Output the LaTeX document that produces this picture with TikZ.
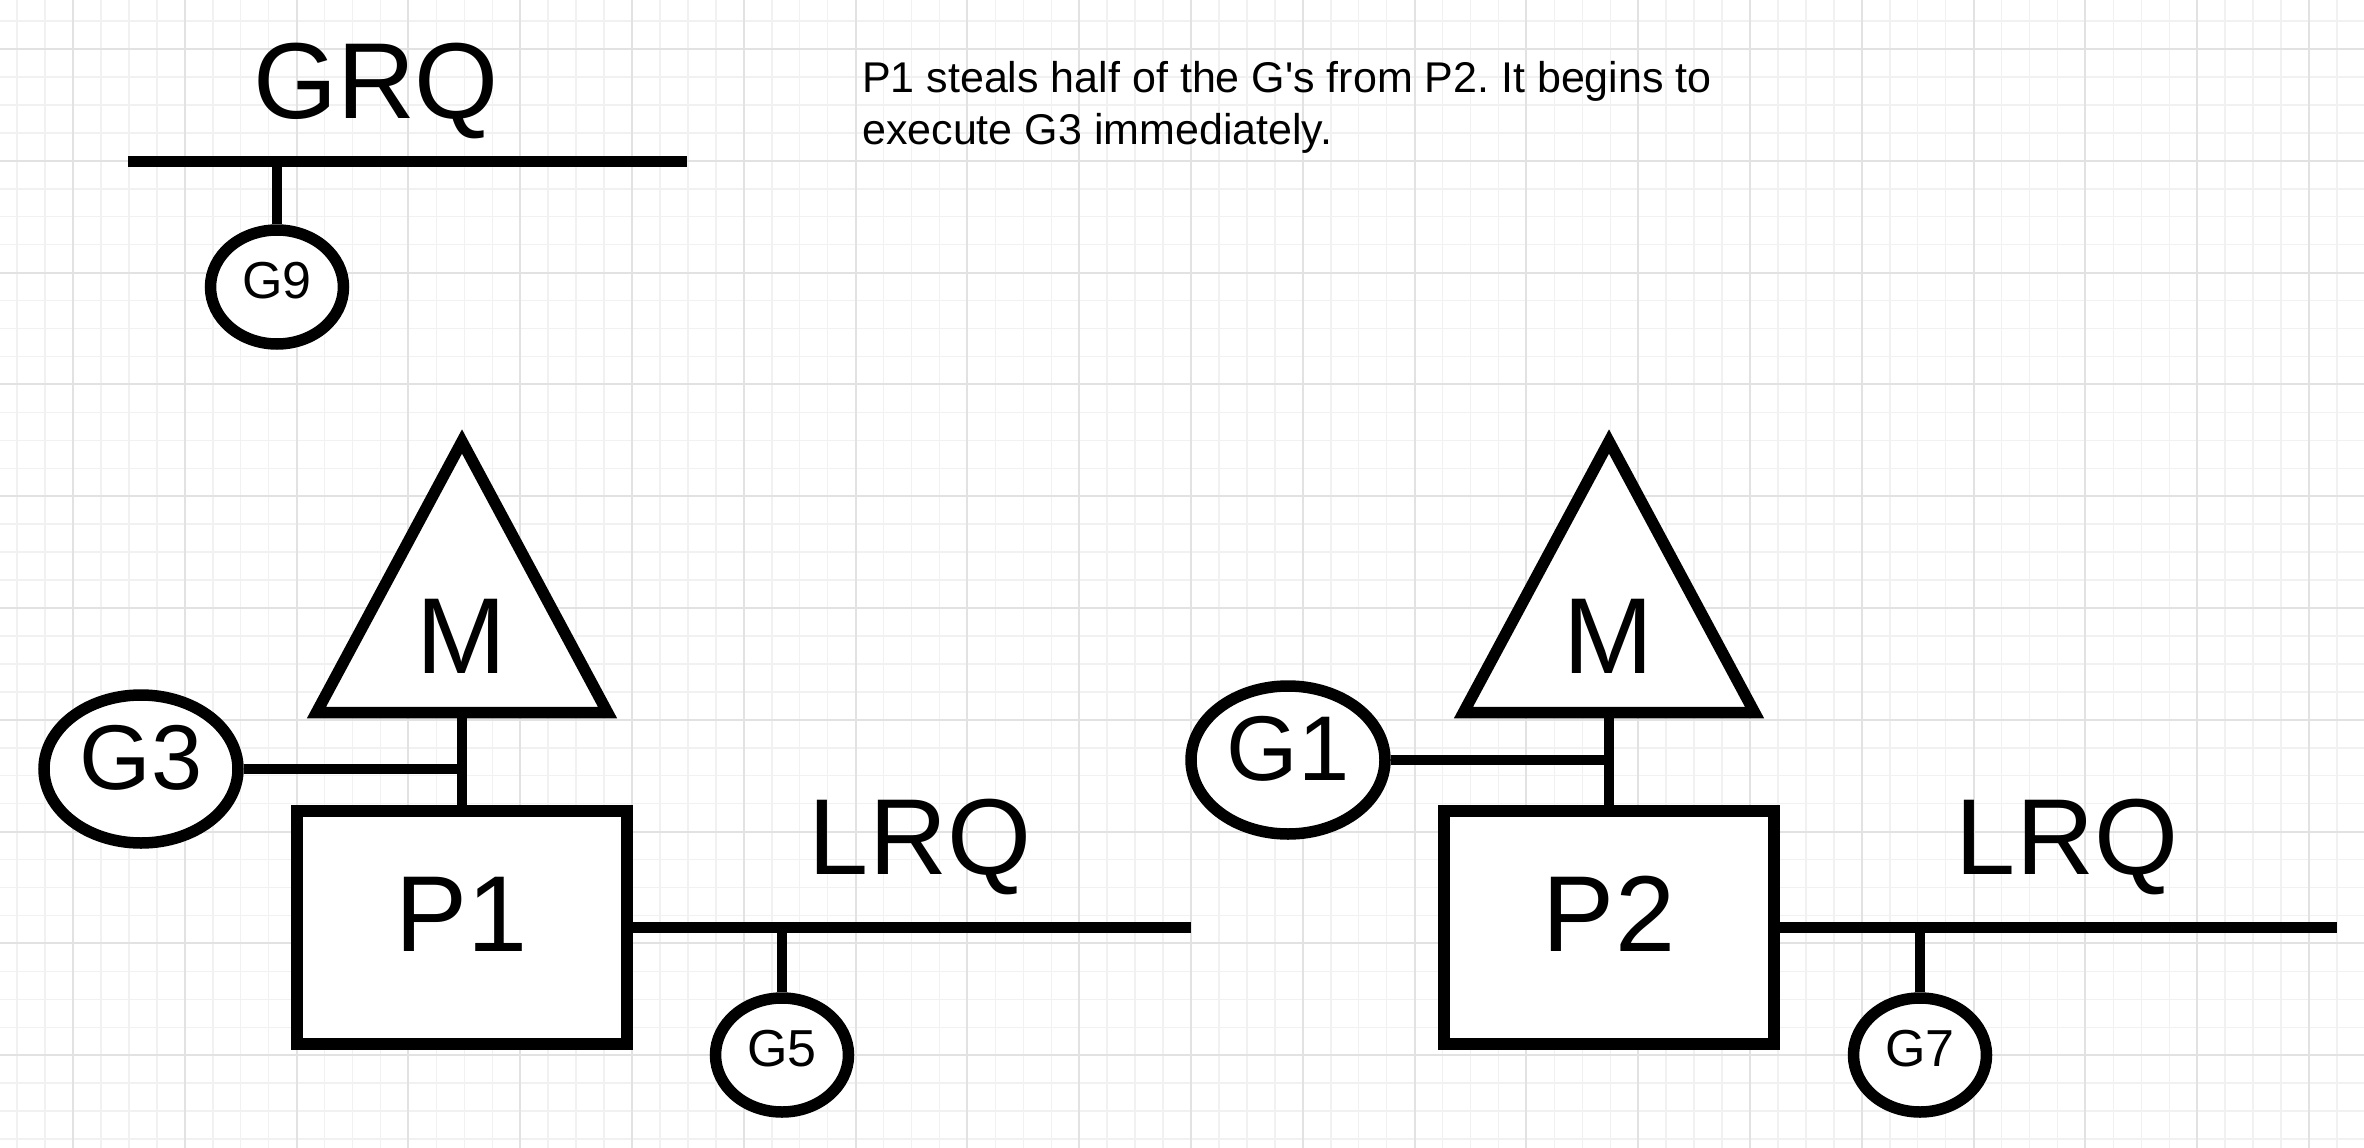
\documentclass[tikz,border=0pt]{standalone}
\usepackage{fontspec}
\setmainfont{Liberation Sans}[Ligatures=TeXOff]
\usetikzlibrary{shapes.geometric,calc}
\definecolor{gridminor}{RGB}{241,241,241}
\definecolor{gridmajor}{RGB}{226,226,226}
\frenchspacing
\begin{document}
\begin{tikzpicture}[x=1pt,y=-1pt,
  shp/.style={draw=black, fill=white, line width=11.5pt},
  gsmall/.style={shp, ellipse, minimum width=133pt, minimum height=114pt, inner sep=0pt,
    font=\fontsize{52}{60}\selectfont, text height=40pt, text depth=18pt},
  gbig/.style={shp, ellipse, minimum width=194pt, minimum height=148pt, inner sep=0pt,
    font=\fontsize{92}{100}\selectfont, text height=60pt, text depth=20pt},
  proc/.style={shp, rectangle, minimum width=330pt, minimum height=233pt, inner sep=0pt,
    font=\fontsize{108}{120}\selectfont, text height=80pt, text depth=33pt},
  bigtxt/.style={inner sep=0pt, font=\fontsize{108}{120}\selectfont},
  desc/.style={inner sep=0pt, align=left, font=\fontsize{43}{52}\selectfont\frenchspacing},
  qline/.style={line width=11pt},
  conn/.style={line width=10pt},
  minorgrid/.style={draw=gridminor, line width=1.5pt},
  majorgrid/.style={draw=gridmajor, line width=2pt}
]
% background and grid
\fill[white] (0,0) rectangle (2364,1148);
\useasboundingbox (0,0) rectangle (2364,1148);
\foreach \i in {0,...,83} {\draw[minorgrid] ({17.1+27.95*\i},0) -- ({17.1+27.95*\i},1148);}
\foreach \i in {0,...,40} {\draw[minorgrid] (0,{21.05+27.95*\i}) -- (2364,{21.05+27.95*\i});}
\foreach \i in {0,...,20} {\draw[majorgrid] ({73+111.8*\i},0) -- ({73+111.8*\i},1148);}
\foreach \i in {0,...,9} {\draw[majorgrid] (0,{49+111.8*\i}) -- (2364,{49+111.8*\i});}

% global run queue
\node[bigtxt, anchor=base] (grq) at (376,118) {GRQ};
\coordinate (grqL) at (128,161.5);
\coordinate (grqR) at (687,161.5);
\draw[qline] (grqL) -- (grqR);
\node[gsmall] (g9) at (277,287) {G9};
\draw[conn] (g9.north) -- (g9.north |- grqL);

% description
\node[desc, anchor=north west] (note) at (862,61) {P1 steals half of the G's from P2. It begins to\\execute G3 immediately.};

% ---------- P1 group ----------
\coordinate (m1a) at (462,441.5);
\coordinate (m1l) at (316.5,712.5);
\coordinate (m1r) at (607.5,712.5);
\coordinate (m1b) at (462,712.5);
\node[proc] (p1) at (462,927.5) {P1};
\draw[conn] (m1b) -- (p1.north);
\draw[shp, line join=miter] (m1a) -- (m1l) -- (m1r) -- cycle;
\node[bigtxt, anchor=base] (m1) at (461,673) {M};
\node[gbig] (g3) at (141,769) {G3};
\draw[conn] (g3.east) -- (g3.east -| m1b);
\coordinate (lrq1end) at (1191,927.5);
\draw[qline] (p1.east) -- (lrq1end);
\node[bigtxt, anchor=base] (lrq1) at (920,874) {LRQ};
\node[gsmall] (g5) at (782,1055) {G5};
\draw[conn] (g5.north) -- (g5.north |- p1.east);

% ---------- P2 group ----------
\coordinate (m2a) at (1609,441.5);
\coordinate (m2l) at (1463.5,712.5);
\coordinate (m2r) at (1754.5,712.5);
\coordinate (m2b) at (1609,712.5);
\node[proc] (p2) at (1609,927.5) {P2};
\draw[conn] (m2b) -- (p2.north);
\draw[shp, line join=miter] (m2a) -- (m2l) -- (m2r) -- cycle;
\node[bigtxt, anchor=base] (m2) at (1608,673) {M};
\node[gbig] (g1) at (1288,760) {G1};
\draw[conn] (g1.east) -- (g1.east -| m2b);
\coordinate (lrq2end) at (2337,927.5);
\draw[qline] (p2.east) -- (lrq2end);
\node[bigtxt, anchor=base] (lrq2) at (2067,874) {LRQ};
\node[gsmall] (g7) at (1920,1055) {G7};
\draw[conn] (g7.north) -- (g7.north |- p2.east);
\end{tikzpicture}
\end{document}
